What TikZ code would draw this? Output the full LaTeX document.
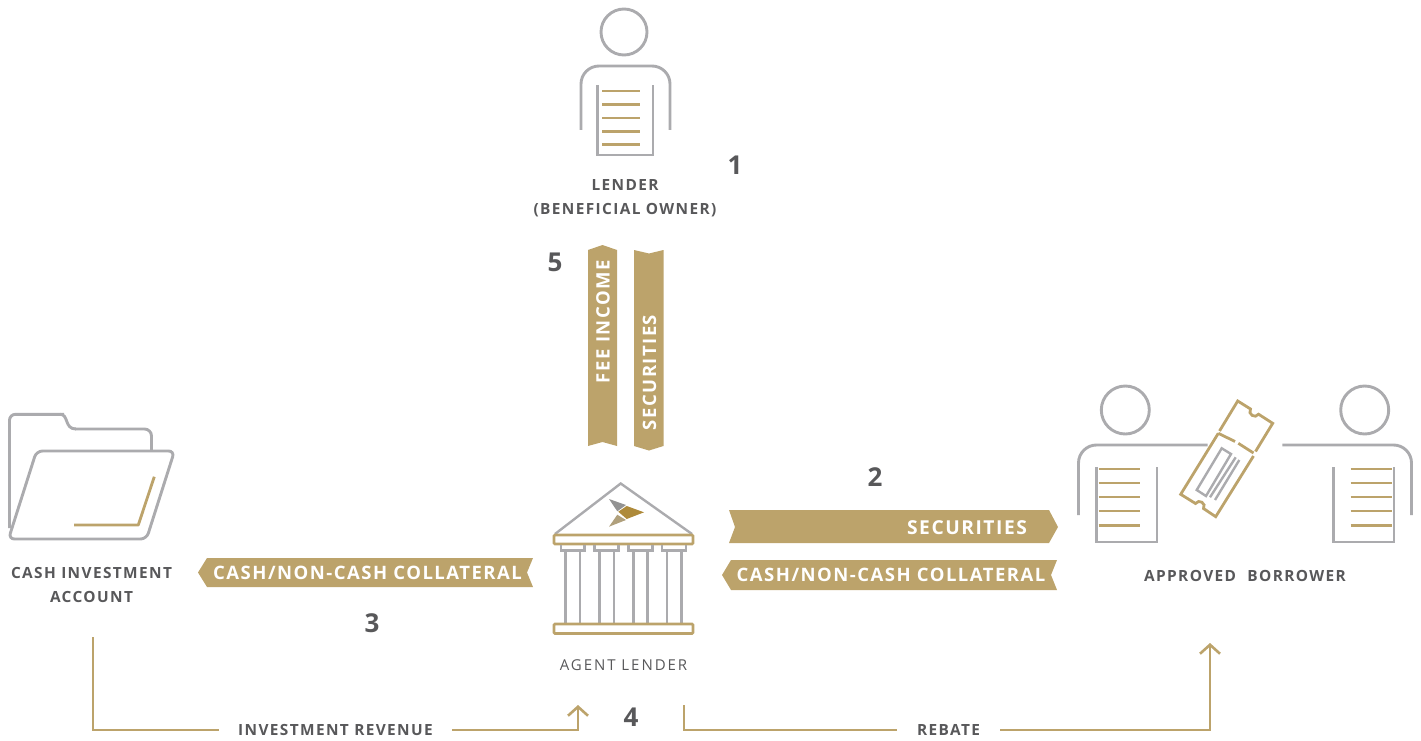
\documentclass[tikz,border=0pt]{standalone}
\usepackage{fontspec}
\setmainfont{Open Sans}
\newfontfamily\lblfont[LetterSpace=9]{Open Sans Bold}
\newfontfamily\ribfont[LetterSpace=8]{Open Sans Bold}
\newfontfamily\regfont[LetterSpace=13]{Open Sans}
\newfontfamily\numfont{Open Sans Bold}
\usetikzlibrary{arrows.meta}
\definecolor{gold}{HTML}{BCA36B}
\definecolor{dgold}{HTML}{AE8A3A}
\definecolor{lgold}{HTML}{B0A07C}
\definecolor{greyl}{HTML}{ABABAE}
\definecolor{logog}{HTML}{939393}
\definecolor{ink}{HTML}{58585A}
\tikzset{
  gl/.style={draw=greyl,line width=2.9pt},
  gd/.style={draw=gold,line width=2.8pt},
  tl/.style={draw=gold,line width=2.8pt},
  ribbon/.style={fill=gold,draw=none},
  ribtext/.style={text=white,font=\ribfont\fontsize{18.5}{18.5}\selectfont,inner sep=0pt},
  sectext/.style={text=white,font=\ribfont\fontsize{19.2}{19.2}\selectfont,inner sep=0pt},
  lab/.style={text=ink,font=\lblfont\fontsize{15.4}{24}\selectfont,align=center,inner sep=0pt},
  lab2/.style={text=ink,font=\regfont\fontsize{15}{24}\selectfont,align=center,inner sep=0pt},
  num/.style={text=ink,font=\numfont\fontsize{26}{26}\selectfont,inner sep=0pt},
  flow/.style={draw=gold,line width=2.6pt},
  flowar/.style={flow,-{Straight Barb[length=9pt,width=20pt,line width=2.6pt]}},
}
\begin{document}
\begin{tikzpicture}[x=1pt,y=-1pt]
\useasboundingbox (0,0) rectangle (1421,741);
% lender
\draw[gl] (624,32) circle (23);
\draw[gl,rounded corners=18pt] (581,130) -- (581,66) -- (670,66) -- (670,130);
\draw[gl] (597.5,85) -- (597.5,155) -- (653,155) -- (653,85);
\foreach \y in {91,104.5,118,131.5,144.5} \draw[tl] (602,\y) -- (640,\y);
\node[lab] (lender) at (625,198) {LENDER\\(BENEFICIAL OWNER)};
% ribbons vertical
\fill[ribbon] (588,250) -- (602.5,245) -- (617,250) -- (617,446) -- (602.5,442) -- (588,446) -- cycle;
\node[ribtext,rotate=90] (fee) at (603,321.7) {FEE INCOME};
\fill[ribbon] (634,250) -- (649,253.5) -- (663.5,250) -- (663.5,446) -- (649,450.5) -- (634,446) -- cycle;
\node[ribtext,rotate=90] (secv) at (649.5,372.5) {SECURITIES};
% ribbons horizontal
\fill[ribbon] (729,510) -- (1049,510) -- (1058,527) -- (1049,543) -- (729,543) -- (735,527) -- cycle;
\node[sectext] (sech) at (967,527.5) {SECURITIES};
\fill[ribbon] (731,560) -- (1057,560) -- (1051,575) -- (1057,590) -- (731,590) -- (722,575) -- cycle;
\node[ribtext] (collr) at (891,575) {CASH/NON-CASH COLLATERAL};
\fill[ribbon] (207,558) -- (533,558) -- (527,572.5) -- (533,587) -- (207,587) -- (198,572.5) -- cycle;
\node[ribtext] (colll) at (367.5,573) {CASH/NON-CASH COLLATERAL};
% bank
\draw[draw=greyl,line width=2.4pt,line join=miter] (555,534) -- (620.7,483.5) -- (692,534);
\draw[gd,rounded corners=1pt] (554,535) rectangle (693,544);
\foreach \a/\b/\c/\d in {560.7/584.3/565.3/579.7,594.3/618.3/599.3/613.7,628.3/652.3/633.3/647.3,662/686/667/681.3}{
  \draw[gl,line width=2.4pt] (\a,545) -- (\a,550.5) -- (\b,550.5) -- (\b,545);
  \draw[gl,line width=2.4pt] (\c,551) -- (\c,623);
  \draw[gl,line width=2.4pt] (\d,551) -- (\d,623);
}
\draw[gd,rounded corners=1pt] (554,624) rectangle (693,633.5);
\fill[logog] (609,499) -- (626,505) -- (617.3,511.3) -- cycle;
\fill[dgold] (618.3,511.7) -- (626.7,506) -- (644,512.3) -- (626.7,519) -- cycle;
\fill[lgold] (609,526.7) -- (617.3,514.7) -- (626,520) -- cycle;
\node[lab2] (agent) at (623.5,665) {AGENT LENDER};
% folder
\draw[gl,rounded corners=6pt] (9.5,528) -- (9.5,414.3) -- (64,414.3);
\draw[gl] (60,414.3) .. controls (69,414.3) and (64,429) .. (76,429);
\draw[gl,rounded corners=7pt] (75,429) -- (151.5,429) -- (151.5,450);
\draw[gl,rounded corners=6pt] (36.5,451) -- (174.5,451) -- (146.5,539) -- (8.5,539) -- cycle;
\draw[gd,line join=round] (74,525) -- (138.3,525) -- (154.3,476.7);
\node[lab] (cash) at (91.5,585) {CASH INVESTMENT\\ACCOUNT};
% borrower left
\draw[gl] (1125.3,410) circle (24);
\draw[gl,rounded corners=18pt] (1078.5,515) -- (1078.5,445) -- (1207.7,445);
\draw[gl] (1096.5,467.3) -- (1096.5,542) -- (1157,542) -- (1157,467.3);
\foreach \y in {469,483,497,511,525.3} \draw[tl] (1098.7,\y) -- (1140,\y);
% borrower right
\draw[gl] (1364.7,410) circle (24);
\draw[gl,rounded corners=18pt] (1282.3,445) -- (1411.5,445) -- (1411.5,515);
\draw[gl] (1333.5,467.3) -- (1333.5,542) -- (1394,542) -- (1394,467.3);
\foreach \y in {469,483,497,511,525.3} \draw[tl] (1350.7,\y) -- (1392,\y);
\node[lab] (borrower) at (1245,575.5) {APPROVED\hspace{6pt} BORROWER};
% ticket
\draw[gd,line join=miter] (1219.5,431) -- (1237.7,401) -- (1250.5,409) .. controls (1247.3,414) and (1255.3,419.2) .. (1258.5,414.2) -- (1272.7,423.3) -- (1255.5,451.5);
\draw[gd,line join=miter] (1218.3,433.3) -- (1180.7,494.3) -- (1195.5,503.5) .. controls (1198.7,498.5) and (1206.7,503.5) .. (1203.5,508.5) -- (1215.7,516.7) -- (1253.5,456);
\draw[gd] (1218.3,433.3) -- (1235,441.5);
\draw[gd] (1238.3,443.3) -- (1253.5,453);
\draw[gl,line width=2.4pt] (1221.7,448.3) -- (1231,454) -- (1206,496) -- (1196.7,490) -- cycle;
\draw[gl,line width=2.4pt] (1235.7,457.3) -- (1210,497.3);
\draw[gl,line width=2.4pt] (1239.3,460) -- (1215,500);
% numbers
\node[num] (n1) at (735,165) {1};
\node[num] (n2) at (875,477) {2};
\node[num] (n3) at (372,623) {3};
\node[num] (n4) at (631,717) {4};
\node[num] (n5) at (555,262) {5};
% flows
\coordinate (cashout) at (93,637);
\coordinate (agentin) at (578,705);
\coordinate (agentout) at (684,705);
\coordinate (borrowin) at (1210,643);
\node[lab,minimum width=233pt,minimum height=14pt] (revenue) at (335.5,730) {INVESTMENT REVENUE};
\node[lab,minimum width=103pt,minimum height=14pt] (rebate) at (948.5,730) {REBATE};
\draw[flow] (cashout) |- (revenue.west);
\draw[flowar] (revenue.east) -| (agentin);
\draw[flow] (agentout) |- (rebate.west);
\draw[flowar] (rebate.east) -| (borrowin);
\end{tikzpicture}
\end{document}
